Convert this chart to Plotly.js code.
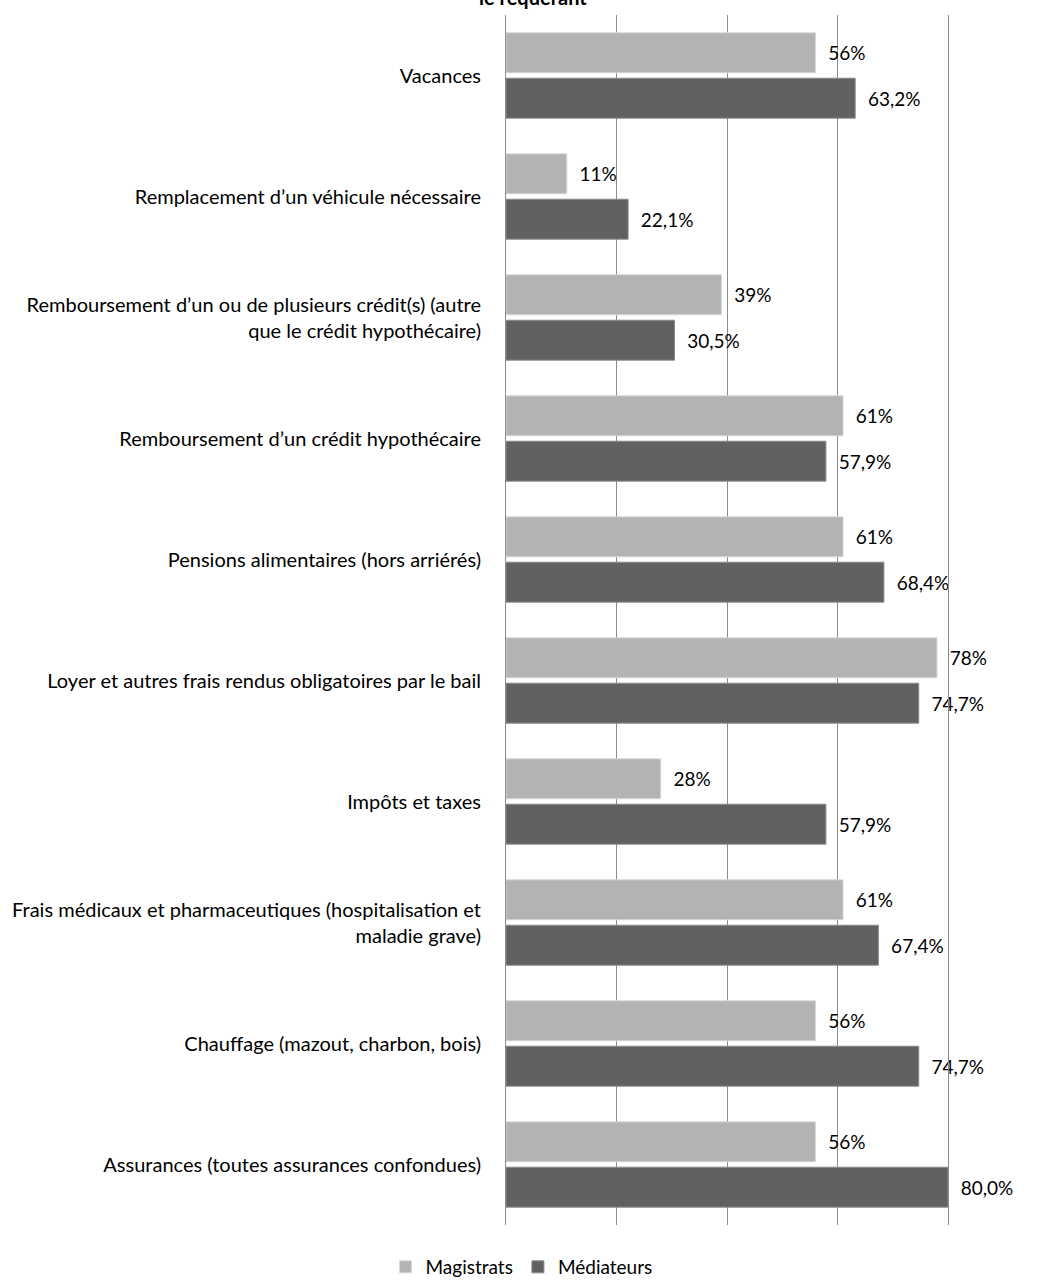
<!DOCTYPE html>
<html><head><meta charset="utf-8">
<script src="https://cdn.plot.ly/plotly-3.0.1.min.js"></script>
<style>html,body{margin:0;padding:0;background:#fff}</style>
</head><body>
<div id="chart" style="width:1043px;height:1286px"></div>
<script>
const categories = [
  "Vacances",
  "Remplacement d\u2019un véhicule nécessaire",
  "Remboursement d\u2019un ou de plusieurs crédit(s) (autre<br>que le crédit hypothécaire)",
  "Remboursement d\u2019un crédit hypothécaire",
  "Pensions alimentaires (hors arriérés)",
  "Loyer et autres frais rendus obligatoires par le bail",
  "Impôts et taxes",
  "Frais médicaux et pharmaceutiques (hospitalisation et<br>maladie grave)",
  "Chauffage (mazout, charbon, bois)",
  "Assurances (toutes assurances confondues)"
];
const magistrats = [56, 11, 39, 61, 61, 78, 28, 61, 56, 56];
const mediateurs = [63.2, 22.1, 30.5, 57.9, 68.4, 74.7, 57.9, 67.4, 74.7, 80.0];
const seriesNames = ["Magistrats", "Médiateurs"];
const titleText = "le requérant";
const gridTicks = [0, 20, 40, 60, 80];

const FONT = "Lato, 'Open Sans', sans-serif";
const pad = "\u00a0\u00a0";

const traces = [
  {
    type: "bar", orientation: "h", name: seriesNames[0],
    y: categories, x: magistrats,
    marker: {color: "#b3b3b3", line: {color: "#d6d6d6", width: 1}},
    texttemplate: pad + "%{x:.0f}%", textposition: "outside", cliponaxis: false,
    textfont: {family: FONT, size: 19, color: "#000"},
    hoverinfo: "skip"
  },
  {
    type: "bar", orientation: "h", name: seriesNames[1],
    y: categories, x: mediateurs,
    marker: {color: "#616161", line: {color: "#8a8a8a", width: 1}},
    texttemplate: pad + "%{x:.1f}%", textposition: "outside", cliponaxis: false,
    textfont: {family: FONT, size: 19, color: "#000"},
    hoverinfo: "skip"
  }
];

const layout = {
  width: 1043, height: 1286,
  margin: {l: 506, r: 95, t: 15, b: 61},
  paper_bgcolor: "#fff", plot_bgcolor: "#fff",
  separators: ", ",
  barmode: "group", bargap: 0.25, bargroupgap: 0.12,
  font: {family: FONT, size: 19, color: "#000"},
  showlegend: true,
  legend: {orientation: "h", xref: "container", yref: "container", x: 0.5, xanchor: "center", y: -0.006, yanchor: "bottom",
           font: {family: FONT, size: 19, color: "#000"}, itemwidth: 30, traceorder: "normal"},
  xaxis: {range: [0, 80], tickvals: gridTicks, showticklabels: false, showgrid: true,
          gridcolor: "#8c8c8c", gridwidth: 1, zeroline: false, showline: false, ticks: "", fixedrange: true},
  yaxis: {type: "category", autorange: "reversed", showgrid: false, zeroline: false,
          showline: true, mirror: true, linecolor: "#8c8c8c", linewidth: 1,
          ticks: "", ticklabelstandoff: 20, tickfont: {family: FONT, size: 20, color: "#000"}},
  annotations: [{
    text: "<b>" + titleText + "</b>", xref: "paper", yref: "paper", x: 0.061, y: 1.0149,
    xanchor: "center", yanchor: "middle", showarrow: false, font: {family: FONT, size: 20, color: "#000"}
  }]
};

Plotly.newPlot("chart", traces, layout, {displayModeBar: false, staticPlot: true});
</script>
</body></html>
